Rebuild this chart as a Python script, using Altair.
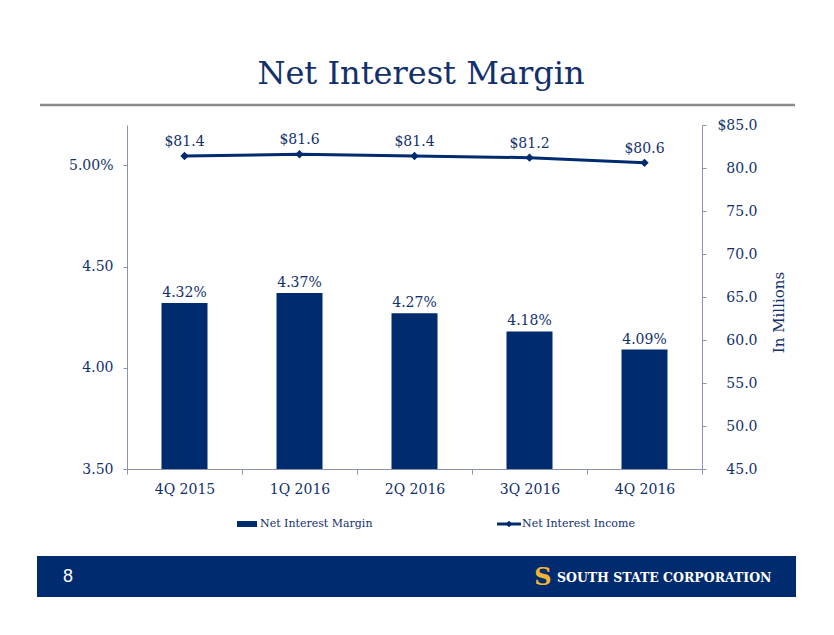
import altair as alt
import pandas as pd

quarters = ["4Q 2015", "1Q 2016", "2Q 2016", "3Q 2016", "4Q 2016"]
nim = [4.32, 4.37, 4.27, 4.18, 4.09]
nii = [81.4, 81.6, 81.4, 81.2, 80.6]
series_names = ["Net Interest Margin", "Net Interest Income"]

NAVY = "#002b6e"
TEXT = "#12306c"
AXIS = "#8c91ad"
FONT = "DejaVu Serif"

df = pd.DataFrame({"quarter": quarters, "nim": nim, "nii": nii})
df["nim_label"] = [f"{v:.2f}%" for v in nim]
df["nii_label"] = [f"${v:.1f}" for v in nii]

W, H = 575, 344
OX, OY = 127, 125  # plot origin in page pixels

x_enc = alt.X(
    "quarter:N",
    sort=quarters,
    scale=alt.Scale(paddingInner=0, paddingOuter=0),
    axis=alt.Axis(
        title=None, labelAngle=0, labelFont=FONT, labelFontSize=14, labelColor=TEXT,
        domainColor=AXIS, tickColor=AXIS, tickSize=5, tickBand="extent",
        labelPadding=8, grid=False,
    ),
)

y_nim = alt.Y(
    "nim:Q",
    scale=alt.Scale(domain=[3.5, 5.2], nice=False, zero=False),
    axis=alt.Axis(
        title=None, values=[3.5, 4.0, 4.5, 5.0],
        labelExpr="datum.value == 5 ? '5.00%' : format(datum.value, '.2f')",
        labelFont=FONT, labelFontSize=14, labelColor=TEXT,
        domainColor=AXIS, tickColor=AXIS, tickSize=4, labelPadding=10, grid=False,
    ),
)

bars = alt.Chart(df).mark_bar(color=NAVY, size=46).encode(x=x_enc, y=y_nim, y2=alt.datum(3.5))
bar_text = alt.Chart(df).mark_text(
    font=FONT, fontSize=14, color=TEXT, baseline="alphabetic", dy=-6
).encode(x=alt.X("quarter:N", sort=quarters), y=alt.Y("nim:Q"), text="nim_label:N")
bar_layer = alt.layer(bars, bar_text)

y_nii = alt.Y(
    "nii:Q",
    scale=alt.Scale(domain=[45, 85], nice=False, zero=False),
    axis=alt.Axis(
        orient="right", title="In Millions", titleAngle=270, titleFont=FONT,
        titleFontSize=15, titleFontWeight="normal", titleColor=TEXT,
        titleX=76, titleY=187, titleAlign="center", titleBaseline="middle",
        values=[45, 50, 55, 60, 65, 70, 75, 80, 85],
        labelExpr="datum.value == 85 ? '$85.0' : format(datum.value, '.1f')",
        labelFont=FONT, labelFontSize=14, labelColor=TEXT, labelAlign="right",
        domainColor=AXIS, tickColor=AXIS, tickSize=4, labelPadding=51, grid=False,
    ),
)

line = alt.Chart(df).mark_line(color=NAVY, strokeWidth=3).encode(
    x=alt.X("quarter:N", sort=quarters), y=y_nii
)
pts = alt.Chart(df).mark_point(shape="diamond", filled=True, size=70, color=NAVY, opacity=1).encode(
    x=alt.X("quarter:N", sort=quarters), y=alt.Y("nii:Q")
)
line_text = alt.Chart(df).mark_text(
    font=FONT, fontSize=14, color=TEXT, baseline="alphabetic", dy=-10
).encode(x=alt.X("quarter:N", sort=quarters), y=alt.Y("nii:Q"), text="nii_label:N")
line_layer = alt.layer(line, pts, line_text)

one = alt.Data(values=[{"a": 1}])

def px(v):
    return alt.value(v - OX)

def py(v):
    return alt.value(v - OY)

title = alt.Chart(one).mark_text(
    text="Net Interest Margin", font=FONT, fontSize=32, color=TEXT, align="center", baseline="alphabetic"
).encode(x=px(421), y=py(84))
sep = alt.Chart(one).mark_rule(color="#8a8a8a", strokeWidth=2.5).encode(x=px(40), x2=px(795), y=py(105))

# legend
leg_bar = alt.Chart(one).mark_rect(color=NAVY).encode(x=px(237), x2=px(257), y=py(521), y2=py(527))
leg_bar_t = alt.Chart(one).mark_text(
    text=series_names[0], font=FONT, fontSize=11, color=TEXT, align="left", baseline="middle"
).encode(x=px(260), y=py(524))
leg_line = alt.Chart(one).mark_rule(color=NAVY, strokeWidth=3).encode(x=px(497), x2=px(521), y=py(524))
leg_pt = alt.Chart(one).mark_point(shape="diamond", filled=True, size=45, color=NAVY, opacity=1).encode(
    x=px(509), y=py(524)
)
leg_line_t = alt.Chart(one).mark_text(
    text=series_names[1], font=FONT, fontSize=11, color=TEXT, align="left", baseline="middle"
).encode(x=px(522), y=py(524))

# footer
band = alt.Chart(one).mark_rect(color=NAVY).encode(x=px(37), x2=px(796), y=py(556), y2=py(597))
page = alt.Chart(one).mark_text(
    text="8", font="Liberation Sans", fontSize=18, color="white", align="center", baseline="middle"
).encode(x=px(68), y=py(577))
logo = alt.Chart(one).mark_text(
    text="S", font=FONT, fontWeight="bold", fontSize=24, color="#f4b532", align="center", baseline="middle"
).encode(x=px(543), y=py(578))
company = alt.Chart(one).mark_text(
    text="SOUTH STATE CORPORATION", font=FONT, fontWeight="bold", fontSize=12.5, color="white",
    align="left", baseline="middle"
).encode(x=px(557), y=py(578))

chart = (
    alt.layer(
        bar_layer, line_layer, title, sep, leg_bar, leg_bar_t, leg_line, leg_pt, leg_line_t,
        band, page, logo, company,
    )
    .resolve_scale(y="independent")
    .properties(
        width=W, height=H,
        autosize=alt.AutoSizeParams(type="none"),
        padding={"left": OX - 8, "top": OY - 8, "right": 818 - (OX - 8) - W, "bottom": 150},
        background="white",
    )
    .configure_view(stroke=None)
)

chart.save("out.html", embed_options={"renderer": "svg", "actions": False})
